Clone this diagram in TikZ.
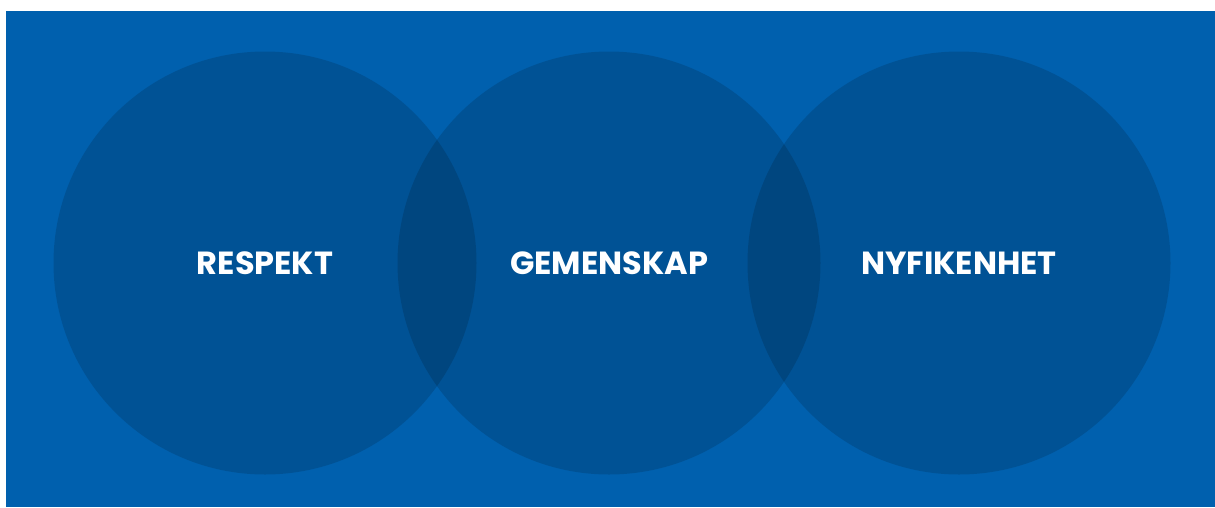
\documentclass[tikz,border=0pt]{standalone}
\usepackage{fontspec}
\newfontfamily\labelfont{Poppins}
\definecolor{bgblue}{RGB}{0,96,174}
\tikzset{
  ring/.style={circle, fill=black, fill opacity=0.14, minimum size=423pt, inner sep=0pt},
  word/.style={text=white, font=\labelfont\bfseries\fontsize{32}{35}\selectfont, inner sep=0pt, anchor=center}
}
\begin{document}
\begin{tikzpicture}[x=1pt,y=-1pt]
\useasboundingbox (0,0) rectangle (1215,507);
\fill[white] (0,0) rectangle (1215,507);
\fill[bgblue] (6,11) rectangle (1215,507);
\node[ring] (c1) at (265,263) {};
\node[ring] (c2) at (609,263) {};
\node[ring] (c3) at (959,263) {};
\node[word] (t1) at (c1) {RESPEKT};
\node[word] (t2) at (c2) {GEMENSKAP};
\node[word] (t3) at (c3) {NYFIKENHET};
\end{tikzpicture}
\end{document}
